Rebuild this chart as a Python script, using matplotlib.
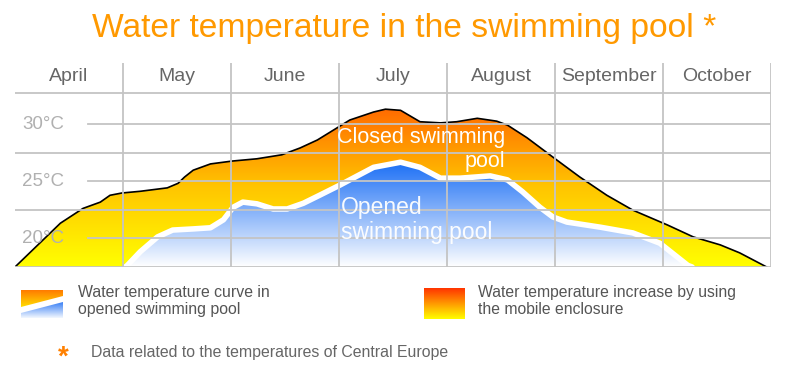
import numpy as np
import matplotlib
matplotlib.use("Agg")
import matplotlib.pyplot as plt
from matplotlib.patches import Polygon
from matplotlib.colors import LinearSegmentedColormap

plt.rcParams['font.family'] = ['Liberation Sans', 'DejaVu Sans']

# ------------------------------------------------------------------
# data (x = months since 1 April, y = deg C)
# ------------------------------------------------------------------
months = ["April", "May", "June", "July", "August", "September", "October"]
temp_ticks = [30, 25, 20]

closed_x = [0.0, 0.42, 0.63, 0.79, 0.88, 0.99, 1.16, 1.41, 1.51, 1.57, 1.65, 1.81,
            2.01, 2.24, 2.47, 2.64, 2.80, 3.10, 3.32, 3.43, 3.57, 3.75, 3.94,
            4.09, 4.28, 4.46, 4.56, 4.74, 4.98, 5.23, 5.48, 5.72, 6.04, 6.28,
            6.53, 6.71, 6.96]
closed_t = [17.46, 21.3, 22.6, 23.15, 23.75, 23.95, 24.1, 24.4, 24.8, 25.35, 25.95, 26.5,
            26.75, 26.95, 27.3, 27.9, 28.6, 30.35, 31.05, 31.3, 31.2, 30.2, 30.1,
            30.2, 30.5, 30.25, 29.9, 28.8, 27.1, 25.35, 23.75, 22.45, 21.15, 20.1,
            19.4, 18.7, 17.46]

open_x = [1.02, 1.04, 1.16, 1.32, 1.46, 1.65, 1.81, 1.93, 2.02, 2.11, 2.24, 2.39,
          2.52, 2.67, 2.82, 3.01, 3.32, 3.57, 3.75, 3.94, 4.12, 4.40, 4.56,
          4.70, 4.86, 4.98, 5.11, 5.42, 5.72, 5.97, 6.13, 6.23, 6.27]
open_t = [17.46, 17.6, 18.8, 20.1, 20.7, 20.8, 20.9, 21.6, 22.7, 23.15, 23.0, 22.55,
          22.55, 23.05, 23.75, 24.65, 26.2, 26.65, 26.2, 25.25, 25.25, 25.45, 25.1,
          24.05, 22.7, 21.85, 21.4, 20.95, 20.45, 19.55, 18.35, 17.6, 17.46]

YMIN, YMAX = 17.46, 35.35

fig = plt.figure(figsize=(8.09, 3.78), dpi=100)
ax = fig.add_axes([15/809, 111/378, 756/809, 204/378])
ax.set_xlim(0, 7)
ax.set_ylim(YMIN, YMAX)
ax.axis("off")

# closed pool: orange -> yellow gradient clipped to the curve
orange = LinearSegmentedColormap.from_list("o", ["#ffff00", "#ffc400", "#ff6600"])
poly_c = Polygon(list(zip(closed_x, closed_t)) + [(closed_x[-1], YMIN), (closed_x[0], YMIN)],
                 closed=True, fc="none", ec="none")
ax.add_patch(poly_c)
grad = np.linspace(0, 1, 256).reshape(-1, 1)
im = ax.imshow(grad, cmap=orange, origin="lower", aspect="auto",
               extent=[0, 7, YMIN, 31.7], zorder=1)
im.set_clip_path(poly_c)
ax.plot(closed_x, closed_t, color="black", lw=1.2, zorder=2)

# opened pool: blue -> white gradient
blue = LinearSegmentedColormap.from_list("b", ["#ffffff", "#1a6ef5"])
poly_o = Polygon(list(zip(open_x, open_t)), closed=True, fc="none", ec="none")
ax.add_patch(poly_o)
im2 = ax.imshow(grad, cmap=blue, origin="lower", aspect="auto",
                extent=[0, 7, YMIN, 26.7], zorder=3)
im2.set_clip_path(poly_o)
ax.plot(open_x, open_t, color="white", lw=4, solid_capstyle="round",
        solid_joinstyle="round", zorder=4)

# grid
gcol = "#c4c4c4"
for i in range(1, 8):
    ax.plot([i, i], [YMIN, YMAX], color=gcol, lw=1.3, zorder=5)
ax.plot([0, 7], [32.72, 32.72], color=gcol, lw=1.3, zorder=5)
for t in [27.5, 22.5, 17.5]:
    ax.plot([0, 7], [t, t], color=gcol, lw=1.3, zorder=5)
for t in temp_ticks:
    ax.plot([0.676, 7], [t, t], color=gcol, lw=1.3, zorder=5)
    ax.text(0.26, t, f"{t}°C", ha="center", va="center", fontsize=13.5,
            color="#b0b0b0", zorder=6)

for i, m in enumerate(months):
    ax.text(i + 0.5, 34.15, m, ha="center", va="center", fontsize=14,
            color="#666666", zorder=6)

ax.text(4.54, 27.76, "Closed swimming\npool", ha="right", va="center",
        multialignment="right", fontsize=15.5, color="white",
        linespacing=1.15, zorder=7)
ax.text(3.02, 21.55, "Opened\nswimming pool", ha="left", va="center",
        fontsize=16.5, color="white", linespacing=1.1, alpha=0.95, zorder=7)

# title
fig.text(404/809, 1 - 29/378, "Water temperature in the swimming pool *",
         ha="center", va="center", fontsize=24.2, color="#ff9900")

# legend (pixel coordinates overlay)
lax = fig.add_axes([0, 0, 1, 1], zorder=-1)
lax.axis("off")

p1 = Polygon([(21, 290), (63, 290), (63, 296), (21, 307)], closed=True, fc="none", ec="none")
lax.add_patch(p1)
o_icon = LinearSegmentedColormap.from_list("oi", ["#ff7a00", "#ffdd00"])
i1 = lax.imshow(grad, cmap=o_icon, origin="upper", aspect="auto", extent=[21, 63, 307, 290])
i1.set_clip_path(p1)
p2 = Polygon([(63, 302), (63, 318), (21, 318), (21, 313)], closed=True, fc="none", ec="none")
lax.add_patch(p2)
b_icon = LinearSegmentedColormap.from_list("bi", ["#3a80f5", "#ffffff"])
i2 = lax.imshow(grad, cmap=b_icon, origin="upper", aspect="auto", extent=[21, 63, 319, 302])
i2.set_clip_path(p2)

r_icon = LinearSegmentedColormap.from_list("ri", ["#ff3300", "#ff9900", "#ffff00"])
lax.imshow(grad, cmap=r_icon, origin="upper", aspect="auto", extent=[424, 465, 319, 288])
lax.set_xlim(0, 809)
lax.set_ylim(378, 0)

fig.text(78/809, 1 - 301/378, "Water temperature curve in\nopened swimming pool",
         ha="left", va="center", fontsize=11.4, color="#555555", linespacing=1.1)
fig.text(478/809, 1 - 301/378, "Water temperature increase by using\nthe mobile enclosure",
         ha="left", va="center", fontsize=11.3, color="#555555", linespacing=1.1)

fig.text(63/809, 1 - 358/378, "*", ha="center", va="center", fontsize=20,
         color="#ff8000", fontweight="bold")
fig.text(91/809, 1 - 352/378, "Data related to the temperatures of Central Europe",
         ha="left", va="center", fontsize=11.4, color="#666666")

fig.savefig("out.png", dpi=100)
